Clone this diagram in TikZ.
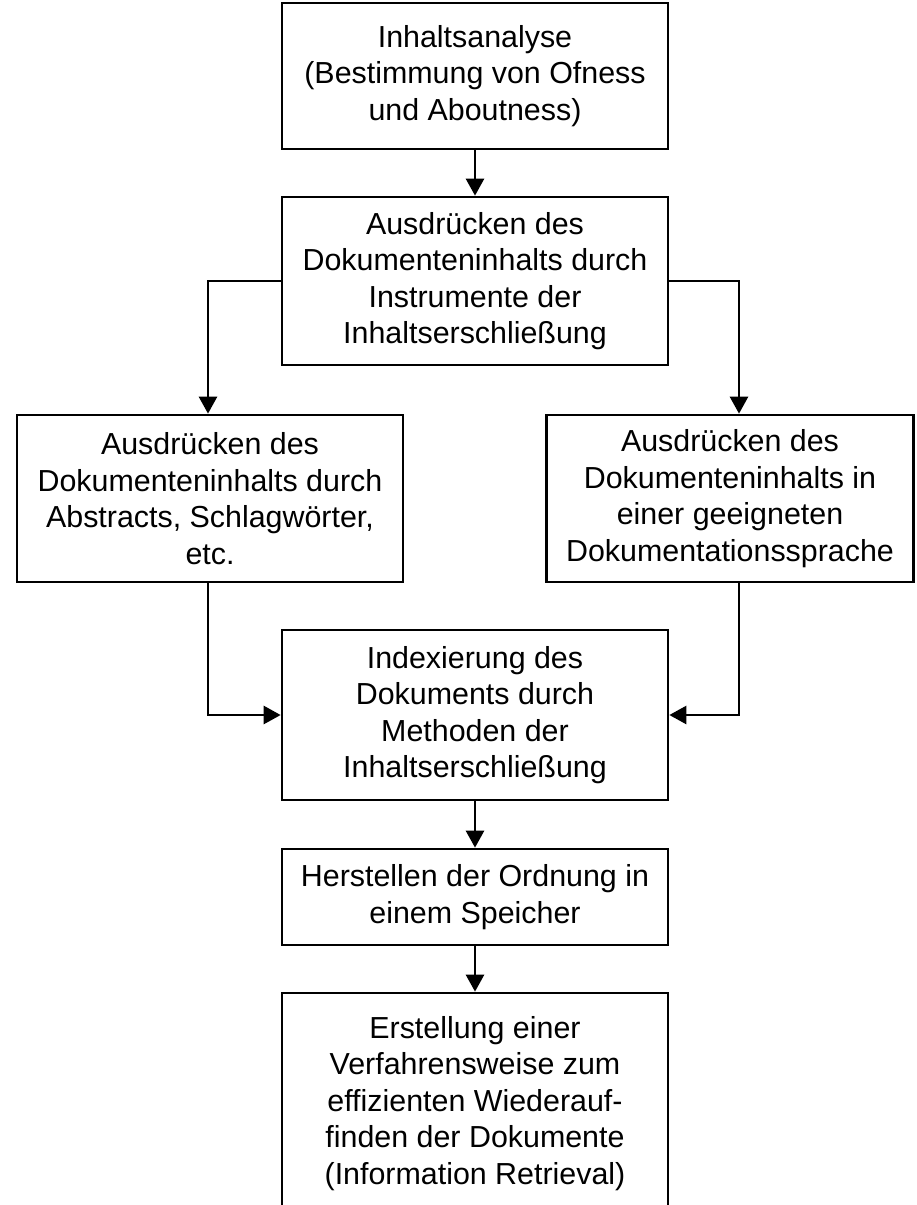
\documentclass[tikz,border=0pt]{standalone}
\usepackage{fontspec}
\setmainfont{Liberation Sans}
\usetikzlibrary{arrows.meta}
\begin{document}
\begin{tikzpicture}[x=1pt,y=-1pt,
  box/.style={draw, line width=2.7pt, rectangle, align=center, inner sep=0pt,
    font=\fontsize{30.4}{36.5}\selectfont},
  flow/.style={line width=2.7pt, -{Triangle[length=17pt,width=18pt]}}]
\useasboundingbox (0,0) rectangle (916,1205);
\clip (0,0) rectangle (916,1205);

% process steps
\node[box, minimum width=386pt, minimum height=146pt] (a) at (475,76)
  {Inhaltsanalyse\\(Bestimmung von Ofness\\und Aboutness)};
\node[box, minimum width=386pt, minimum height=168pt] (b) at (475,281)
  {Ausdrücken des\\Dokumenteninhalts durch\\Instrumente der\\Inhaltserschließung};
\node[box, minimum width=386pt, minimum height=167pt] (c) at (210,498.5)
  {Ausdrücken des\\Dokumenteninhalts durch\\Abstracts, Schlagwörter,\\etc.};
\node[box, minimum width=367pt, minimum height=167pt] (d) at (730,498.5)
  {Ausdrücken des\\Dokumenteninhalts in\\einer geeigneten\\Dokumentationssprache};
\node[box, minimum width=386pt, minimum height=170pt] (e) at (475,715)
  {Indexierung des\\Dokuments durch\\Methoden der\\Inhaltserschließung};
\node[box, minimum width=386pt, minimum height=96pt] (f) at (475,897)
  {Herstellen der Ordnung in\\einem Speicher};
\node[box, minimum width=386pt, minimum height=221pt] (g) at (475,1103.5)
  {Erstellung einer\\Verfahrensweise zum\\effizienten Wiederauf-\\finden der Dokumente\\(Information Retrieval)};

% connectors
\draw[flow] (a) -- (b);
\draw[flow] (b.west) -| ([xshift=-2pt]c.north);
\draw[flow] (b.east) -| ([xshift=9pt]d.north);
\draw[flow] ([xshift=-2pt]c.south) |- (e.west);
\draw[flow] ([xshift=9pt]d.south) |- (e.east);
\draw[flow] (e) -- (f);
\draw[flow] (f) -- (g);
\end{tikzpicture}
\end{document}
